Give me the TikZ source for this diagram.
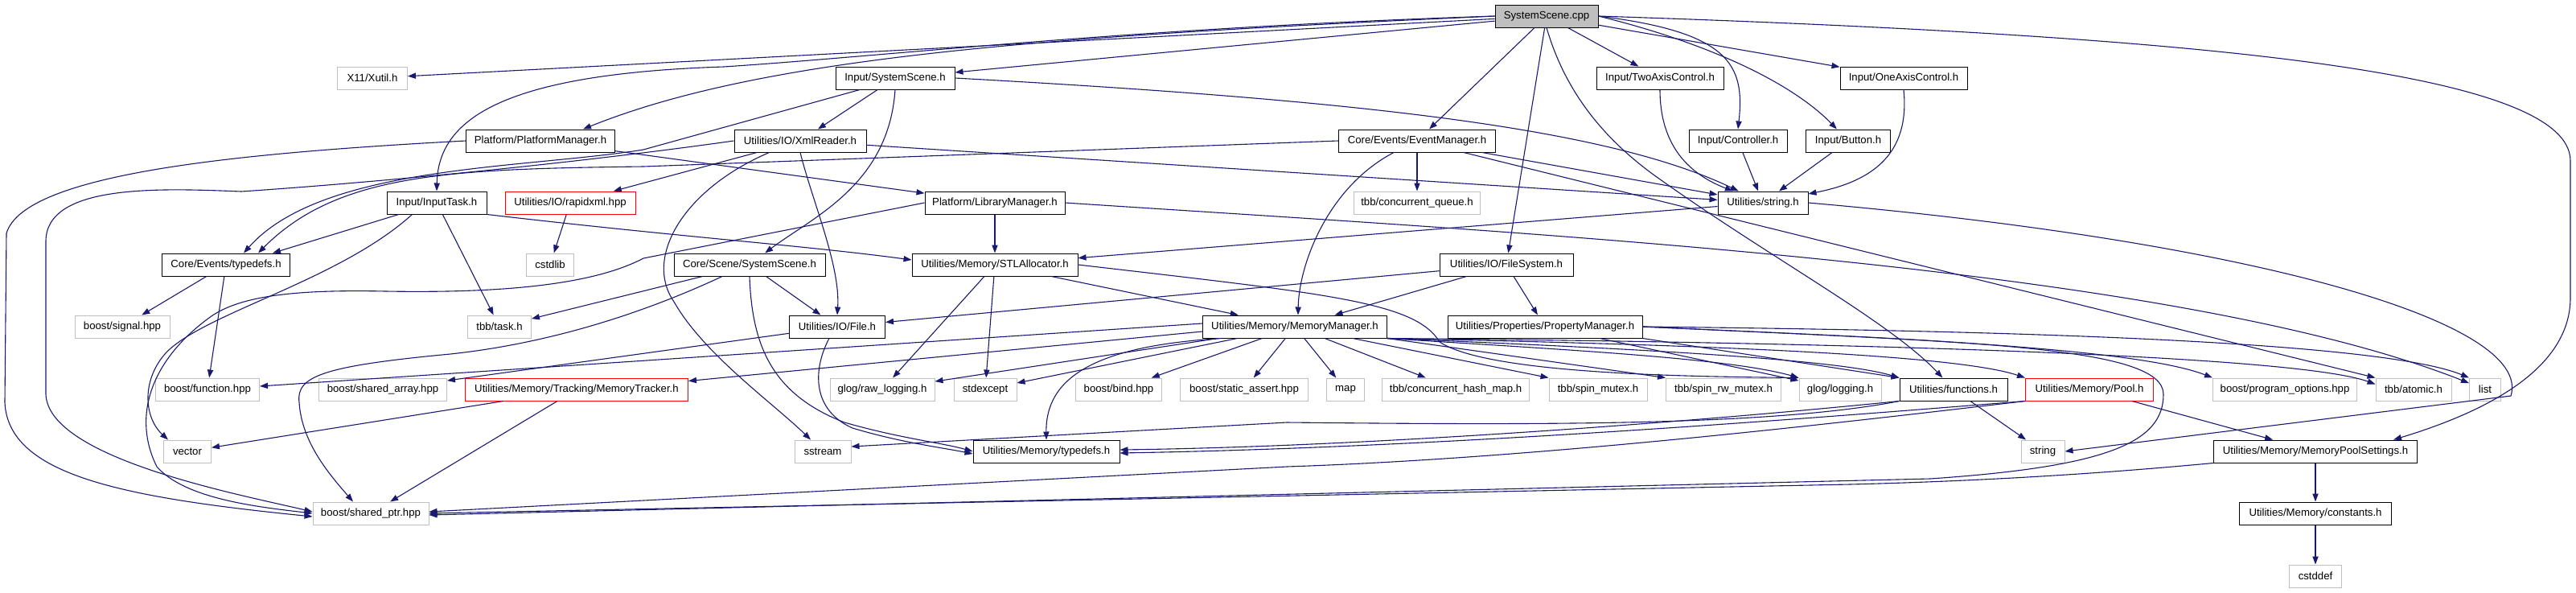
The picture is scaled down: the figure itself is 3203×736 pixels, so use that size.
\documentclass[tikz,border=0pt]{standalone}
\usepackage{fontspec}
\setmainfont{Liberation Sans}
\usetikzlibrary{arrows.meta}
\definecolor{edgec}{RGB}{25,25,112}
\definecolor{greyb}{RGB}{191,191,191}
\definecolor{redb}{RGB}{255,0,0}
\begin{document}
\begin{tikzpicture}[x=0.5pt,y=-0.5pt,
  font=\fontsize{6.6pt}{7.5pt}\selectfont,
  box/.style={draw=black, line width=0.5pt, fill=white, minimum height=14pt, inner sep=0pt, anchor=center},
  ext/.style={box, draw=greyb},
  trunc/.style={box, draw=redb},
  rootbox/.style={box, fill=greyb},
  e/.style={draw=edgec, line width=0.55pt, -{Triangle[length=5pt,width=3.6pt]}}]
\useasboundingbox (0,0) rectangle (3203,736);
% nodes
\node[rootbox, minimum width=64pt] (root) at (1923,20) {SystemScene.cpp};
\node[ext, minimum width=43.5pt] (xutil) at (463,97) {X11/Xutil.h};
\node[box, minimum width=74pt] (insys) at (1113,97) {Input/SystemScene.h};
\node[box, minimum width=79pt] (twoaxis) at (2064,97) {Input/TwoAxisControl.h};
\node[box, minimum width=79pt] (oneaxis) at (2367,97) {Input/OneAxisControl.h};
\node[box, minimum width=92.5pt] (platmgr) at (672,175) {Platform/PlatformManager.h};
\node[box, minimum width=82pt] (xml) at (995,175) {Utilities/IO/XmlReader.h};
\node[box, minimum width=97.5pt] (evmgr) at (1762,175) {Core/Events/EventManager.h};
\node[box, minimum width=61pt] (ctrl) at (2161,175) {Input/Controller.h};
\node[box, minimum width=52.5pt] (button) at (2298,175) {Input/Button.h};
\node[box, minimum width=62pt] (inputtask) at (543,252) {Input/InputTask.h};
\node[trunc, minimum width=81pt] (rapidxml) at (709,252) {Utilities/IO/rapidxml.hpp};
\node[box, minimum width=87pt] (libmgr) at (1237,252) {Platform/LibraryManager.h};
\node[ext, minimum width=78.5pt] (cqueue) at (1762,252) {tbb/concurrent\_queue.h};
\node[box, minimum width=56pt] (ustring) at (2192,252) {Utilities/string.h};
\node[box, minimum width=79.5pt] (evtypedefs) at (281,329) {Core/Events/typedefs.h};
\node[ext, minimum width=29.5pt] (cstdlib) at (684,329) {cstdlib};
\node[box, minimum width=94pt] (csysscene) at (932,329) {Core/Scene/SystemScene.h};
\node[box, minimum width=103pt] (stlalloc) at (1237,329) {Utilities/Memory/STLAllocator.h};
\node[box, minimum width=83pt] (filesystem) at (1873,329) {Utilities/IO/FileSystem.h};
\node[ext, minimum width=59pt] (signal) at (152,406) {boost/signal.hpp};
\node[ext, minimum width=39.5pt] (task) at (621,406) {tbb/task.h};
\node[box, minimum width=59.5pt] (file) at (1041,406) {Utilities/IO/File.h};
\node[box, minimum width=114.5pt] (memmgr) at (1610,406) {Utilities/Memory/MemoryManager.h};
\node[box, minimum width=121pt] (propmgr) at (1921,406) {Utilities/Properties/PropertyManager.h};
\node[ext, minimum width=64.5pt] (function) at (258,484) {boost/function.hpp};
\node[ext, minimum width=79.5pt] (sharedarray) at (476,484) {boost/shared\_array.hpp};
\node[trunc, minimum width=138.5pt] (tracker) at (717,484) {Utilities/Memory/Tracking/MemoryTracker.h};
\node[ext, minimum width=65pt] (rawlog) at (1097,484) {glog/raw\_logging.h};
\node[ext, minimum width=39pt] (stdexcept) at (1225,484) {stdexcept};
\node[ext, minimum width=53.5pt] (bind) at (1391,484) {boost/bind.hpp};
\node[ext, minimum width=79.5pt] (sassert) at (1547,484) {boost/static\_assert.hpp};
\node[ext, minimum width=23.5pt] (map) at (1673,484) {map};
\node[ext, minimum width=91.5pt] (chmap) at (1810,484) {tbb/concurrent\_hash\_map.h};
\node[ext, minimum width=61pt] (spin) at (1987,484) {tbb/spin\_mutex.h};
\node[ext, minimum width=71.5pt] (spinrw) at (2143,484) {tbb/spin\_rw\_mutex.h};
\node[ext, minimum width=51pt] (glog) at (2288,484) {glog/logging.h};
\node[box, minimum width=67pt] (functions) at (2429,484) {Utilities/functions.h};
\node[trunc, minimum width=79.5pt] (pool) at (2598,484) {Utilities/Memory/Pool.h};
\node[ext, minimum width=89.5pt] (progopt) at (2841,484) {boost/program\_options.hpp};
\node[ext, minimum width=47pt] (atomic) at (3001,484) {tbb/atomic.h};
\node[ext, minimum width=19.5pt] (list) at (3090,484) {list};
\node[ext, minimum width=29.5pt] (vector) at (233,561) {vector};
\node[ext, minimum width=35pt] (sstream) at (1023,561) {sstream};
\node[box, minimum width=91pt] (memtypedefs) at (1301,561) {Utilities/Memory/typedefs.h};
\node[ext, minimum width=27pt] (stdstring) at (2540,561) {string};
\node[box, minimum width=126.5pt] (poolset) at (2879,561) {Utilities/Memory/MemoryPoolSettings.h};
\node[ext, minimum width=72pt] (sharedptr) at (461,638) {boost/shared\_ptr.hpp};
\node[box, minimum width=94.5pt] (constants) at (2879,638) {Utilities/Memory/constants.h};
\node[ext, minimum width=32.5pt] (cstddef) at (2879,716) {cstddef};
% root edges
\draw[e] (root) -- (xutil);
\draw[e] (root) -- (insys);
\draw[e] (root.west) .. controls (1300,45) and (950,70) .. ([xshift=-20pt]platmgr.north east);
\draw[e] (root.west) .. controls (1400,35) and (1100,70) .. (900,83) .. controls (620,92) and (545,150) .. (inputtask.north);
\draw[e] (root) -- (evmgr);
\draw[e] (root) -- (filesystem);
\draw[e] (root) -- (twoaxis);
\draw[e] (root.east) .. controls (2150,40) and (2170,80) .. (ctrl.north);
\draw[e] (root.east) .. controls (2130,55) and (2230,105) .. (button);
\draw[e] (root) -- (oneaxis);
\draw[e] (root.south) .. controls (1945,110) and (1990,170) .. (2060,220) .. controls (2200,320) and (2350,400) .. (functions);
\draw[e] (root.east) .. controls (2750,45) and (3196,90) .. (3196,200) -- (3196,370) .. controls (3196,440) and (3130,500) .. ([xshift=-15pt]poolset.north east);
% Input/SystemScene.h
\draw[e] (insys) -- (xml);
\draw[e] (insys.south) .. controls (1105,230) and (1010,270) .. (csysscene);
\draw[e] ([xshift=-22pt]insys.south) -- (800,186) .. controls (650,210) and (400,205) .. ([xshift=11pt]evtypedefs.north);
\draw[e] (insys.east) .. controls (1700,125) and (2000,160) .. (ustring);
% Input/InputTask.h
\draw[e] (inputtask) -- ([xshift=29pt]evtypedefs.north);
\draw[e] (inputtask) -- (task);
\draw[e] ([xshift=16pt]inputtask.south west) .. controls (420,350) and (250,390) .. (205,440) .. controls (175,475) and (180,520) .. ([xshift=3pt]vector.north west);
\draw[e] (inputtask.south east) .. controls (850,295) and (1000,305) .. ([yshift=3pt]stlalloc.west);
% Platform/PlatformManager.h
\draw[e] (platmgr.west) .. controls (300,190) and (30,215) .. (8,290) -- (6,500) .. controls (10,590) and (150,618) .. ([yshift=-2pt]sharedptr.west);
\draw[e] (platmgr) -- (libmgr);
% XmlReader
\draw[e] (xml) -- (rapidxml);
\draw[e] (xml.south) .. controls (1010,250) and (1045,330) .. (file.north);
\draw[e] ([xshift=22pt]xml.south west) .. controls (850,235) and (800,320) .. (838,375) .. controls (875,440) and (960,500) .. (sstream);
\draw[e] (xml) -- (ustring);
\draw[e] (xml.west) .. controls (700,205) and (450,228) .. (300,238) .. controls (200,234) and (57,228) .. (57,300) -- (57,490) .. controls (60,570) and (300,615) .. ([yshift=1pt]sharedptr.west);
% EventManager
\draw[e] (evmgr) -- (cqueue);
\draw[e] (evmgr) -- (ustring);
\draw[e] ([xshift=-14.5pt]evmgr.south) .. controls (1650,233) and (1615,330) .. ([xshift=2pt]memmgr.north);
\draw[e] ([xshift=-20pt]evmgr.south east) -- (atomic.north west);
\draw[e] (evmgr.west) -- (800,207) .. controls (560,210) and (420,215) .. ([xshift=20pt]evtypedefs.north);
% LibraryManager
\draw[e] (libmgr) -- (stlalloc);
\draw[e] (libmgr.east) .. controls (1900,290) and (2700,330) .. (list);
\draw[e] (libmgr.west) -- (800,321) .. controls (730,358) and (600,364) .. (480,362) .. controls (380,360) and (300,365) .. (260,395) .. controls (185,450) and (165,520) .. (195,580) .. controls (230,620) and (320,630) .. (sharedptr.west);
% Core/Scene/SystemScene.h
\draw[e] (csysscene) -- (file);
\draw[e] (csysscene) -- (task);
\draw[e] (csysscene.south) .. controls (935,430) and (960,490) .. (1050,525) .. controls (1120,545) and (1170,550) .. (memtypedefs.west);
\draw[e] ([xshift=-17pt]csysscene.south) .. controls (820,380) and (700,425) .. (560,440) .. controls (400,455) and (368,468) .. (372,500) .. controls (375,550) and (410,590) .. ([xshift=-11pt]sharedptr.north);
% File.h
\draw[e] (file) -- (sharedarray);
\draw[e] ([xshift=-5pt]file.south) .. controls (1010,460) and (1010,510) .. (1060,532) .. controls (1120,550) and (1170,556) .. ([yshift=-1.5pt]memtypedefs.west);
% MemoryManager
\draw[e] ([yshift=2pt]memmgr.west) -- ([yshift=2pt]function.east);
\draw[e] ([yshift=-3pt]memmgr.west) -- ([yshift=-2pt]tracker.north east);
\draw[e] (memmgr) -- (rawlog);
\draw[e] (memmgr) -- (stdexcept);
\draw[e] ([xshift=12pt]memmgr.south west) .. controls (1360,430) and (1300,470) .. (memtypedefs.north);
\draw[e] (memmgr) -- (bind);
\draw[e] (memmgr) -- (sassert);
\draw[e] (memmgr) -- (map);
\draw[e] (memmgr) -- (chmap);
\draw[e] (memmgr) -- (spin.north west);
\draw[e] (memmgr.south east) -- (spinrw.north west);
\draw[e] (memmgr.south east) .. controls (1950,435) and (2150,445) .. (glog.north west);
\draw[e] (memmgr.south east) .. controls (2000,432) and (2280,445) .. (functions.north west);
\draw[e] (memmgr.south east) .. controls (2100,428) and (2430,440) .. (pool.north west);
\draw[e] (memmgr.south east) .. controls (2250,425) and (2850,440) .. ([yshift=-4pt]atomic.north west);
% PropertyManager
\draw[e] (propmgr) -- (glog);
\draw[e] (propmgr.south east) -- (functions.north west);
\draw[e] (propmgr.east) .. controls (2300,418) and (2650,430) .. (progopt.north west);
\draw[e] (propmgr.east) .. controls (2400,410) and (2950,420) .. (list.north west);
\draw[e] (propmgr.east) .. controls (2450,425) and (2690,430) .. (2690,490) .. controls (2690,550) and (2620,580) .. (2400,595) -- ([yshift=-1pt]sharedptr.east);
% FileSystem
\draw[e] (filesystem) -- (file);
\draw[e] (filesystem) -- (memmgr);
\draw[e] (filesystem) -- (propmgr);
% STLAllocator
\draw[e] (stlalloc) -- (memmgr);
\draw[e] (stlalloc) -- (rawlog);
\draw[e] (stlalloc) -- (stdexcept);
\draw[e] (stlalloc.east) .. controls (1650,365) and (1760,375) .. (1790,425) .. controls (1850,465) and (2100,468) .. (glog.north west);
% string.h and controls
\draw[e] (ustring) -- (stlalloc);
\draw[e] (ustring.east) .. controls (2800,300) and (3150,400) .. (3122,492) -- (stdstring.east);
\draw[e] (twoaxis.south) .. controls (2064,190) and (2110,220) .. (ustring);
\draw[e] (ctrl) -- (ustring);
\draw[e] (button) -- (ustring);
\draw[e] (oneaxis.south) .. controls (2375,190) and (2330,225) .. (ustring);
% misc
\draw[e] (evtypedefs) -- (signal);
\draw[e] (evtypedefs) -- (function);
\draw[e] (rapidxml) -- (cstdlib);
\draw[e] (tracker) -- (vector);
\draw[e] (tracker) -- (sharedptr);
% functions / pool
\draw[e] (functions) -- (stdstring);
\draw[e] (functions.south west) .. controls (2200,530) and (1900,528) .. (1600,525) -- ([yshift=3pt]sstream.east);
\draw[e] (functions.south west) .. controls (2100,525) and (1700,555) .. ([yshift=1pt]memtypedefs.east);
\draw[e] (pool.south west) .. controls (2250,520) and (1800,556) .. ([yshift=-1pt]memtypedefs.east);
\draw[e] (pool.south west) .. controls (2250,530) and (1900,570) .. (1600,580) -- ([yshift=1pt]sharedptr.east);
\draw[e] (pool) -- (poolset);
\draw[e] (poolset.south west) .. controls (2650,585) and (2500,597) .. (2300,602) -- (sharedptr.east);
\draw[e] (poolset) -- (constants);
\draw[e] (constants) -- (cstddef);
\end{tikzpicture}
\end{document}
